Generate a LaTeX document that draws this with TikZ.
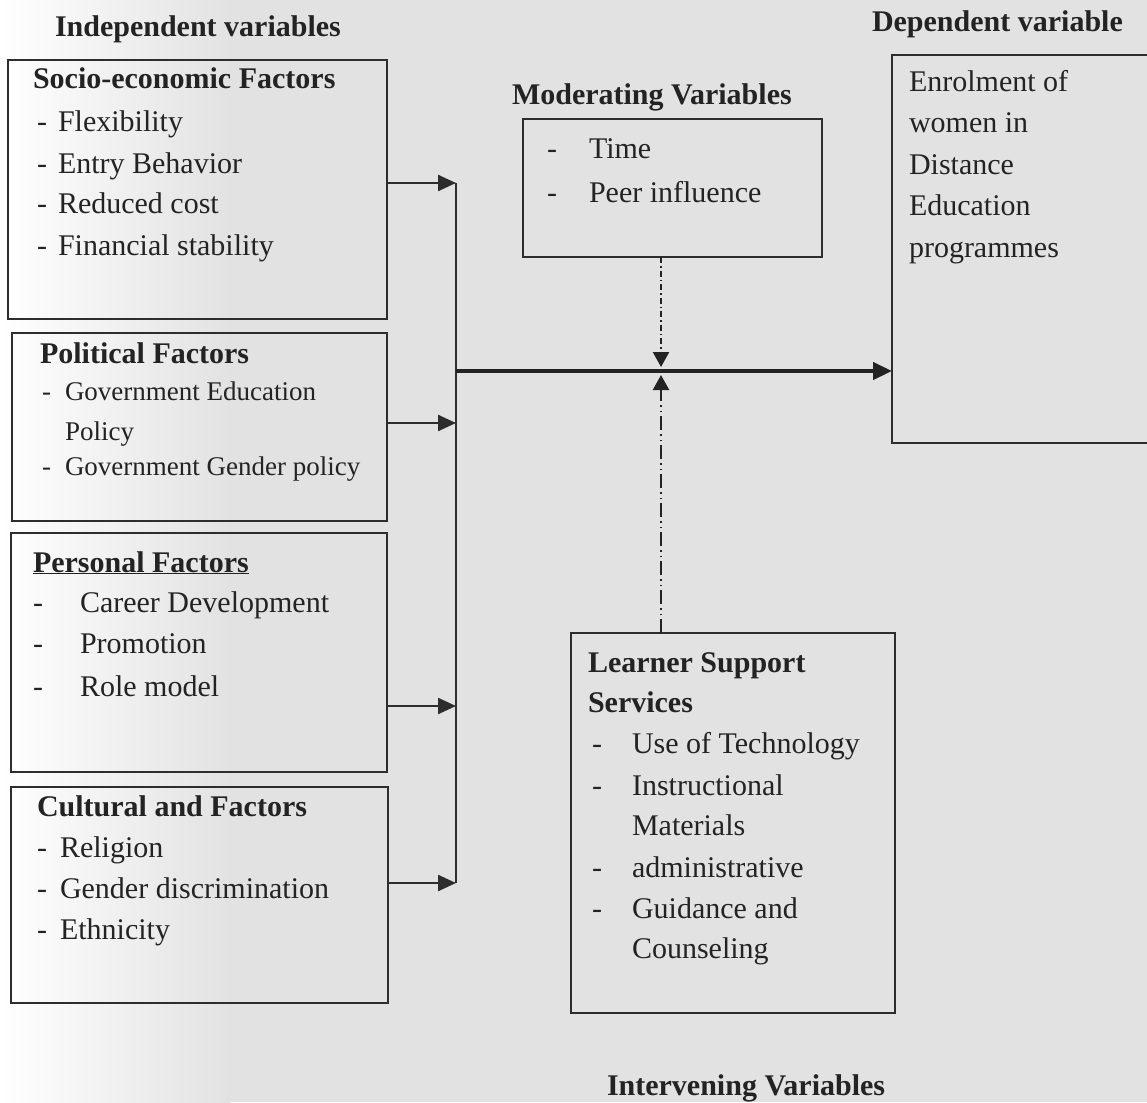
\documentclass[tikz,border=0pt]{standalone}
\usepackage{fontspec}
\setmainfont{Liberation Serif}
\usetikzlibrary{arrows.meta}
\definecolor{bg}{RGB}{226,226,226}
\definecolor{ink}{RGB}{35,35,35}
\definecolor{edge}{RGB}{45,45,45}
\tikzset{
  txt/.style={anchor=base west, inner sep=0pt, outer sep=0pt, text=ink, font=\fontsize{30}{36}\selectfont},
  smalltxt/.style={txt, font=\fontsize{27}{32}\selectfont},
  head/.style={txt, font=\fontsize{30}{36}\selectfont\bfseries},
  box/.style={draw=edge, line width=2.4pt, anchor=north west, inner sep=0pt, outer sep=0pt},
  conn/.style={draw=edge, line width=2.4pt, -{Triangle[length=18pt,width=16pt]}},
  busline/.style={draw=edge, line width=2.4pt},
  mainline/.style={draw=ink, line width=4.5pt, -{Triangle[length=19pt,width=17pt]}},
  dottop/.style={draw=ink, line width=2.2pt, dash pattern=on 6pt off 3pt on 1.5pt off 3pt, -{Triangle[length=15pt,width=16pt]}},
  dotbot/.style={draw=ink, line width=2.2pt, dash pattern=on 14pt off 4pt on 1.5pt off 4pt on 1.5pt off 4pt, -{Triangle[length=15pt,width=16pt]}}
}
\begin{document}
\begin{tikzpicture}[x=1pt,y=-1pt]
\useasboundingbox (0,0) rectangle (1147,1102);
\fill[bg] (0,0) rectangle (1147,1102);
\shade[left color=white, right color=bg] (0,0) rectangle (230,1102);

% headings
\node[head] (hind) at (55,37) {Independent variables};
\node[head] (hdep) at (872,32) {Dependent variable};
\node[head] (hmod) at (512,105) {Moderating Variables};
\node[head] (hint) at (607,1095) {Intervening Variables};

% boxes
\node[box, minimum width=379pt, minimum height=259pt] (soc) at (8,60) {};
\node[box, minimum width=375pt, minimum height=188pt] (pol) at (12,333) {};
\node[box, minimum width=376pt, minimum height=239pt] (per) at (11,533) {};
\node[box, minimum width=377pt, minimum height=216pt] (cul) at (11,787) {};
\node[box, minimum width=299pt, minimum height=138pt] (mod) at (523,119) {};
\node[box, minimum width=290pt, minimum height=388pt] (enr) at (892,55) {};
\node[box, minimum width=324pt, minimum height=380pt] (lss) at (571,633) {};

% socio-economic
\node[head] (s0) at (33,89) {Socio-economic Factors};
\node[txt] (s1d) at (37,132) {-}; \node[txt] (s1) at (58,132) {Flexibility};
\node[txt] (s2d) at (37,173) {-}; \node[txt] (s2) at (58,173) {Entry Behavior};
\node[txt] (s3d) at (37,213) {-}; \node[txt] (s3) at (58,213) {Reduced cost};
\node[txt] (s4d) at (37,255) {-}; \node[txt] (s4) at (58,255) {Financial stability};

% political
\node[head] (p0) at (40,363) {Political Factors};
\node[smalltxt] (p1d) at (42,400) {-}; \node[smalltxt] (p1) at (65,400) {Government Education};
\node[smalltxt] (p1b) at (65,440) {Policy};
\node[smalltxt] (p2d) at (42,475) {-}; \node[smalltxt] (p2) at (65,475) {Government Gender policy};

% personal
\node[head] (q0) at (33,572) {\underline{Personal Factors}};
\node[txt] (q1d) at (33,612) {-}; \node[txt] (q1) at (80,612) {Career Development};
\node[txt] (q2d) at (33,653) {-}; \node[txt] (q2) at (80,653) {Promotion};
\node[txt] (q3d) at (33,696) {-}; \node[txt] (q3) at (80,696) {Role model};

% cultural
\node[head] (c0) at (37,816) {Cultural and Factors};
\node[txt] (c1d) at (37,857) {-}; \node[txt] (c1) at (60,857) {Religion};
\node[txt] (c2d) at (37,898) {-}; \node[txt] (c2) at (60,898) {Gender discrimination};
\node[txt] (c3d) at (37,939) {-}; \node[txt] (c3) at (60,939) {Ethnicity};

% moderating
\node[txt] (m1d) at (547,159) {-}; \node[txt] (m1) at (589,159) {Time};
\node[txt] (m2d) at (547,202) {-}; \node[txt] (m2) at (589,202) {Peer influence};

% enrolment
\node[txt] (e1) at (909,92) {Enrolment of};
\node[txt] (e2) at (909,133) {women in};
\node[txt] (e3) at (909,175) {Distance};
\node[txt] (e4) at (909,215) {Education};
\node[txt] (e5) at (909,257) {programmes};

% learner support
\node[head] (l0) at (588,672) {Learner Support};
\node[head] (l0b) at (588,712) {Services};
\node[txt] (l1d) at (592,753) {-}; \node[txt] (l1) at (632,753) {Use of Technology};
\node[txt] (l2d) at (592,795) {-}; \node[txt] (l2) at (632,795) {Instructional};
\node[txt] (l2b) at (632,835) {Materials};
\node[txt] (l3d) at (592,877) {-}; \node[txt] (l3) at (632,877) {administrative};
\node[txt] (l4d) at (592,918) {-}; \node[txt] (l4) at (632,918) {Guidance and};
\node[txt] (l4b) at (632,958) {Counseling};

% connectors
\coordinate (b1) at (456,183);
\coordinate (b2) at (456,423);
\coordinate (b3) at (456,706);
\coordinate (b4) at (456,883);
\coordinate (bm) at (456,371);
\coordinate (mjt) at (661,367);
\coordinate (mjb) at (661,375);

\draw[busline] (b1) -- (b4);
\draw[conn] (soc.east |- b1) -- (b1);
\draw[conn] (pol.east |- b2) -- (b2);
\draw[conn] (per.east |- b3) -- (b3);
\draw[conn] (cul.east |- b4) -- (b4);
\draw[mainline] (bm) -- (enr.west |- bm);
\draw[dottop] (mod.south -| mjt) -- (mjt);
\draw[dotbot] (lss.north -| mjb) -- (mjb);
\end{tikzpicture}
\end{document}
